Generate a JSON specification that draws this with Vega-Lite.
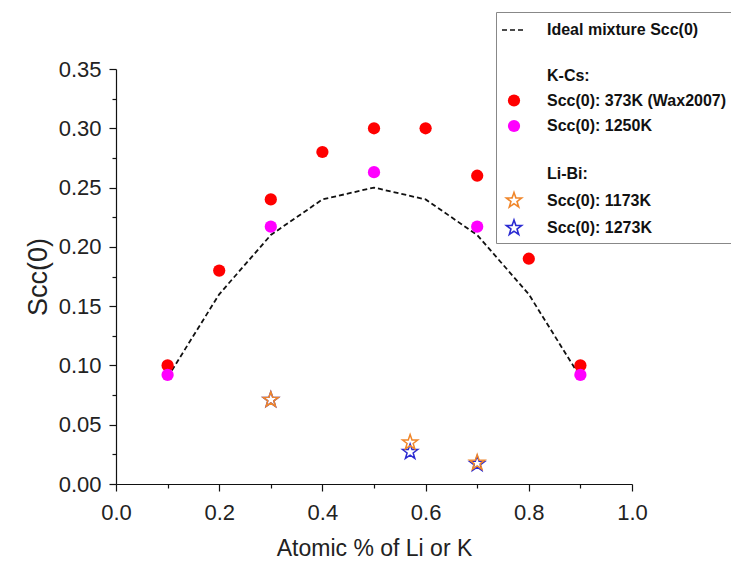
{
  "$schema": "https://vega.github.io/schema/vega-lite/v6.json",
  "width": 516,
  "height": 415,
  "autosize": {"type": "none"},
  "padding": {"left": 116, "top": 69, "right": 99, "bottom": 77},
  "background": "white",
  "config": {
    "view": {"stroke": null},
    "font": "Liberation Sans",
    "axis": {
      "grid": false,
      "domainColor": "#111",
      "domainWidth": 1.2,
      "tickColor": "#111",
      "tickWidth": 1.2,
      "labelFont": "Liberation Sans",
      "labelFontSize": 22,
      "labelColor": "#222",
      "labelFlush": false,
      "labelOverlap": false,
      "titleFont": "Liberation Sans",
      "titleFontWeight": "normal",
      "titleColor": "#222"
    },
    "legend": {
      "orient": "none",
      "legendX": 380,
      "legendY": -57,
      "padding": 5,
      "strokeColor": "#888",
      "fillColor": "white",
      "cornerRadius": 0,
      "labelOffset": 20,
      "rowPadding": 5.5,
      "labelFont": "Liberation Sans",
      "labelFontSize": 16,
      "labelFontWeight": "bold",
      "labelColor": "#111",
      "labelLimit": 400,
      "symbolStrokeWidth": 1.6,
      "symbolOpacity": 1
    }
  },
  "data": {
    "values": [
      {"series": "Ideal mixture Scc(0)", "x": 0.1, "y": 0.09},
      {"series": "Ideal mixture Scc(0)", "x": 0.2, "y": 0.16},
      {"series": "Ideal mixture Scc(0)", "x": 0.3, "y": 0.21},
      {"series": "Ideal mixture Scc(0)", "x": 0.4, "y": 0.24},
      {"series": "Ideal mixture Scc(0)", "x": 0.5, "y": 0.25},
      {"series": "Ideal mixture Scc(0)", "x": 0.6, "y": 0.24},
      {"series": "Ideal mixture Scc(0)", "x": 0.7, "y": 0.21},
      {"series": "Ideal mixture Scc(0)", "x": 0.8, "y": 0.16},
      {"series": "Ideal mixture Scc(0)", "x": 0.9, "y": 0.09},
      {"series": "Scc(0): 373K (Wax2007)", "x": 0.1, "y": 0.10},
      {"series": "Scc(0): 373K (Wax2007)", "x": 0.2, "y": 0.18},
      {"series": "Scc(0): 373K (Wax2007)", "x": 0.3, "y": 0.24},
      {"series": "Scc(0): 373K (Wax2007)", "x": 0.4, "y": 0.28},
      {"series": "Scc(0): 373K (Wax2007)", "x": 0.5, "y": 0.30},
      {"series": "Scc(0): 373K (Wax2007)", "x": 0.6, "y": 0.30},
      {"series": "Scc(0): 373K (Wax2007)", "x": 0.7, "y": 0.26},
      {"series": "Scc(0): 373K (Wax2007)", "x": 0.8, "y": 0.19},
      {"series": "Scc(0): 373K (Wax2007)", "x": 0.9, "y": 0.10},
      {"series": "Scc(0): 1250K", "x": 0.1, "y": 0.092},
      {"series": "Scc(0): 1250K", "x": 0.3, "y": 0.217},
      {"series": "Scc(0): 1250K", "x": 0.5, "y": 0.263},
      {"series": "Scc(0): 1250K", "x": 0.7, "y": 0.217},
      {"series": "Scc(0): 1250K", "x": 0.9, "y": 0.092},
      {"series": "Scc(0): 1273K", "x": 0.3, "y": 0.071},
      {"series": "Scc(0): 1273K", "x": 0.57, "y": 0.027},
      {"series": "Scc(0): 1273K", "x": 0.7, "y": 0.017},
      {"series": "Scc(0): 1173K", "x": 0.3, "y": 0.071},
      {"series": "Scc(0): 1173K", "x": 0.57, "y": 0.035},
      {"series": "Scc(0): 1173K", "x": 0.7, "y": 0.018}
    ]
  },
  "resolve": {"axis": {"x": "independent", "y": "independent"}},
  "layer": [
    {
      "transform": [{"filter": "datum.series === 'Ideal mixture Scc(0)'"}],
      "mark": {"type": "line", "color": "#111", "strokeWidth": 1.8},
      "encoding": {
        "x": {
          "field": "x",
          "type": "quantitative",
          "scale": {"domain": [0, 1], "nice": false, "zero": false},
          "axis": {
            "orient": "bottom",
            "title": "Atomic % of Li or K",
            "titleFontSize": 23,
            "titlePadding": 14,
            "values": [0, 0.2, 0.4, 0.6, 0.8, 1.0],
            "format": ".1f",
            "tickSize": 7,
            "labelPadding": 11
          }
        },
        "y": {
          "field": "y",
          "type": "quantitative",
          "scale": {"domain": [0, 0.35], "nice": false, "zero": false},
          "axis": {
            "orient": "left",
            "title": "Scc(0)",
            "titleFontSize": 27,
            "titlePadding": 6,
            "values": [0, 0.05, 0.1, 0.15, 0.2, 0.25, 0.3, 0.35],
            "format": ".2f",
            "tickSize": 7,
            "labelPadding": 8
          }
        },
        "strokeDash": {
          "field": "series",
          "type": "nominal",
          "scale": {
            "domain": ["Ideal mixture Scc(0)", " ", "K-Cs:", "Scc(0): 373K (Wax2007)", "Scc(0): 1250K", "  ", "Li-Bi:", "Scc(0): 1173K", "Scc(0): 1273K"],
            "range": [[5, 3], [1, 0], [1, 0], [1, 0], [1, 0], [1, 0], [1, 0], [1, 0], [1, 0]]
          },
          "legend": {"title": null}
        }
      }
    },
    {
      "transform": [{"filter": "datum.series === 'Ideal mixture Scc(0)'"}],
      "mark": {"type": "point", "opacity": 0},
      "encoding": {
        "x": {
          "field": "x",
          "type": "quantitative",
          "axis": {"orient": "bottom", "values": [0.1, 0.3, 0.5, 0.7, 0.9], "labels": false, "domain": false, "title": null, "tickSize": 4}
        },
        "y": {
          "field": "y",
          "type": "quantitative",
          "axis": {"orient": "left", "values": [0.025, 0.075, 0.125, 0.175, 0.225, 0.275, 0.325], "labels": false, "domain": false, "title": null, "tickSize": 4}
        }
      }
    },
    {
      "transform": [{"filter": "datum.series !== 'Ideal mixture Scc(0)'"}],
      "mark": {"type": "point", "opacity": 1, "strokeWidth": 1.5},
      "encoding": {
        "x": {"field": "x", "type": "quantitative", "axis": null},
        "y": {"field": "y", "type": "quantitative", "axis": null},
        "shape": {
          "field": "series",
          "type": "nominal",
          "scale": {
            "domain": ["Ideal mixture Scc(0)", " ", "K-Cs:", "Scc(0): 373K (Wax2007)", "Scc(0): 1250K", "  ", "Li-Bi:", "Scc(0): 1173K", "Scc(0): 1273K"],
            "range": ["stroke", "circle", "circle", "circle", "circle", "circle", "circle",
              "M0,-1L0.235,-0.324L0.951,-0.309L0.38,0.124L0.588,0.809L0,0.4L-0.588,0.809L-0.38,0.124L-0.951,-0.309L-0.235,-0.324Z",
              "M0,-1L0.235,-0.324L0.951,-0.309L0.38,0.124L0.588,0.809L0,0.4L-0.588,0.809L-0.38,0.124L-0.951,-0.309L-0.235,-0.324Z"]
          },
          "legend": {"title": null}
        },
        "size": {
          "field": "series",
          "type": "ordinal",
          "scale": {
            "type": "ordinal",
            "domain": ["Ideal mixture Scc(0)", " ", "K-Cs:", "Scc(0): 373K (Wax2007)", "Scc(0): 1250K", "  ", "Li-Bi:", "Scc(0): 1173K", "Scc(0): 1273K"],
            "range": [576, 100, 100, 150, 150, 100, 100, 256, 256]
          },
          "legend": {"title": null}
        },
        "fill": {
          "field": "series",
          "type": "nominal",
          "scale": {
            "domain": ["Ideal mixture Scc(0)", " ", "K-Cs:", "Scc(0): 373K (Wax2007)", "Scc(0): 1250K", "  ", "Li-Bi:", "Scc(0): 1173K", "Scc(0): 1273K"],
            "range": ["transparent", "transparent", "transparent", "#ff0000", "#ff00ff", "transparent", "transparent", "transparent", "transparent"]
          },
          "legend": {"title": null}
        },
        "stroke": {
          "field": "series",
          "type": "nominal",
          "scale": {
            "domain": ["Ideal mixture Scc(0)", " ", "K-Cs:", "Scc(0): 373K (Wax2007)", "Scc(0): 1250K", "  ", "Li-Bi:", "Scc(0): 1173K", "Scc(0): 1273K"],
            "range": ["#111", "transparent", "transparent", "transparent", "transparent", "transparent", "transparent", "#f0862a", "#2a2ad2"]
          },
          "legend": {"title": null}
        },
        "order": {"field": "series", "sort": "descending"}
      }
    }
  ]
}
